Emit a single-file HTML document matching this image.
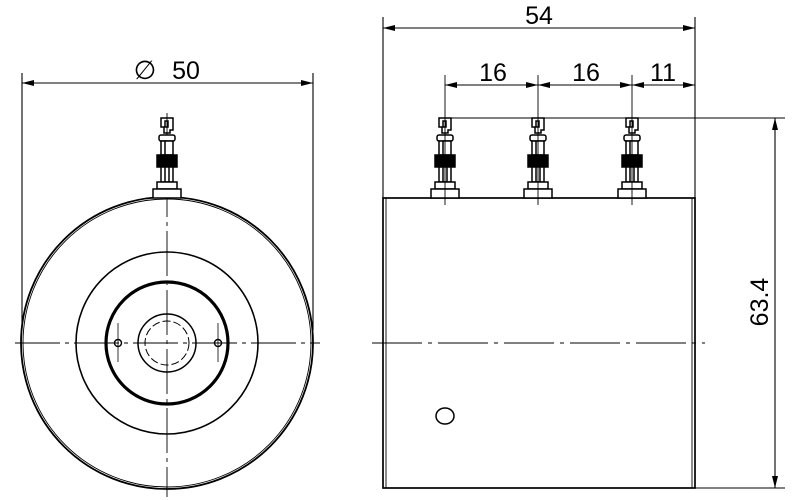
<!DOCTYPE html>
<html><head><meta charset="utf-8"><style>html,body{margin:0;padding:0;background:#fff}svg{display:block}</style></head>
<body>
<svg width="800" height="500" viewBox="0 0 800 500" xmlns="http://www.w3.org/2000/svg" font-family="Liberation Sans, sans-serif">
<defs>
<marker id="a" viewBox="0 0 12 6" refX="12" refY="3" markerWidth="12" markerHeight="6" orient="auto-start-reverse" markerUnits="userSpaceOnUse"><path d="M0,0L12,3L0,6z" fill="#000"/></marker>
<g id="pin" fill="#fff" stroke="#000" stroke-width="1.5">
<path d="M-6,118 H6 V130 H3 V133 H-3 V127 H1 V121 H-2 V127 H-6 Z" fill="none"/>
<rect x="-8" y="135" width="16" height="6" rx="2"/>
<rect x="-6" y="141" width="12" height="14"/>
<rect x="-10" y="155" width="20" height="12" fill="#000"/>
<rect x="-6" y="167" width="12" height="15"/>
<line x1="-2" y1="141" x2="-2" y2="182"/><line x1="2" y1="167" x2="2" y2="182"/>
<rect x="-10" y="182" width="20" height="7"/>
<rect x="-14" y="189" width="28" height="9"/>
</g>
</defs>
<g fill="none" stroke="#000" stroke-width="1.3">
<circle cx="167" cy="343" r="146" stroke-width="1.8"/>
<circle cx="167" cy="343" r="144" stroke-width="0.9"/>
<circle cx="167" cy="343" r="91" stroke-width="1.6"/>
<circle cx="167" cy="343" r="61" stroke-width="3.2"/>
<circle cx="167" cy="343" r="29" stroke-width="1.5"/>
<circle cx="167" cy="343" r="22" stroke-width="1" stroke-dasharray="8,3"/>
<circle cx="118" cy="343" r="3.5" stroke-width="1.4"/>
<circle cx="218" cy="343" r="3.5" stroke-width="1.4"/>
<line x1="118" y1="323" x2="118" y2="362" stroke-width="0.8"/>
<line x1="218" y1="323" x2="218" y2="362" stroke-width="0.8"/>
<line x1="15" y1="343" x2="320" y2="343" stroke-width="0.9" stroke-dasharray="45,5,4,5"/>
<line x1="167" y1="113" x2="167" y2="497" stroke-width="0.9" stroke-dasharray="45,5,4,5"/>
<use href="#pin" transform="translate(167,0)"/>
<line x1="22" y1="73" x2="22" y2="330" stroke-width="1.1"/>
<line x1="313" y1="73" x2="313" y2="330" stroke-width="1.1"/>
<line x1="22" y1="83" x2="313" y2="83" stroke-width="1.1" marker-start="url(#a)" marker-end="url(#a)"/>
<rect x="383" y="198" width="312" height="290" stroke-width="1.7"/>
<line x1="386" y1="198" x2="386" y2="488" stroke-width="0.9"/>
<line x1="692" y1="198" x2="692" y2="488" stroke-width="0.9"/>
<line x1="372" y1="343" x2="705" y2="343" stroke-width="0.9" stroke-dasharray="50,6,4,6"/>
<ellipse cx="445" cy="416" rx="9" ry="8" stroke-width="1.5"/>
<use href="#pin" transform="translate(445,0)"/>
<use href="#pin" transform="translate(538,0)"/>
<use href="#pin" transform="translate(632,0)"/>
<line x1="445" y1="75" x2="445" y2="205" stroke-width="0.9"/>
<line x1="538" y1="75" x2="538" y2="205" stroke-width="0.9"/>
<line x1="632" y1="75" x2="632" y2="205" stroke-width="0.9"/>
<line x1="383" y1="17" x2="383" y2="198" stroke-width="1.1"/>
<line x1="695" y1="17" x2="695" y2="198" stroke-width="1.1"/>
<line x1="383" y1="28" x2="695" y2="28" stroke-width="1.1" marker-start="url(#a)" marker-end="url(#a)"/>
<line x1="445" y1="85" x2="538" y2="85" stroke-width="1.1" marker-start="url(#a)" marker-end="url(#a)"/>
<line x1="538" y1="85" x2="632" y2="85" stroke-width="1.1" marker-start="url(#a)" marker-end="url(#a)"/>
<line x1="632" y1="85" x2="695" y2="85" stroke-width="1.1" marker-start="url(#a)" marker-end="url(#a)"/>
<line x1="445" y1="118" x2="785" y2="118" stroke-width="1.1"/>
<line x1="695" y1="488" x2="785" y2="488" stroke-width="1.1"/>
<line x1="775" y1="118" x2="775" y2="488" stroke-width="1.1" marker-start="url(#a)" marker-end="url(#a)"/>
</g>
<g font-size="25" fill="#000" text-anchor="middle">
<text x="186" y="79">50</text>
<text x="145" y="79" font-size="26">∅</text>
<text x="539" y="24">54</text>
<text x="493" y="81">16</text>
<text x="586" y="81">16</text>
<text x="663" y="81">11</text>
<text transform="translate(768,302) rotate(-90)">63.4</text>
</g>
</svg>
</body></html>
